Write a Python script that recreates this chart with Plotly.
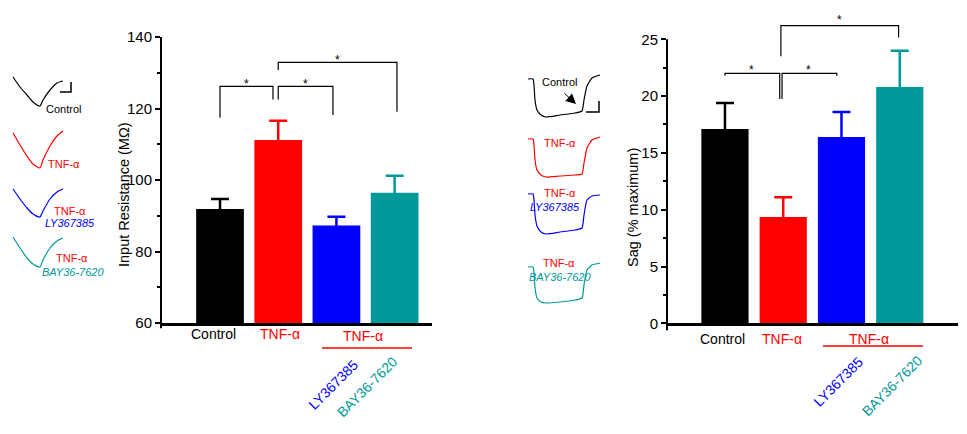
import plotly.graph_objects as go

W, H = 967, 434
FONT = "Liberation Sans"

# ---------------- data ----------------
categories = ["Control", "TNF-α", "TNF-α + LY367385", "TNF-α + BAY36-7620"]
bar_colors = ["#000000", "#FF0000", "#0000FF", "#009999"]
xpos = [0, 1, 2, 3]

input_res = [91.9, 111.2, 87.3, 96.4]
input_res_err = [2.8, 5.4, 2.4, 4.8]

sag = [17.1, 9.35, 16.4, 20.8]
sag_err = [2.3, 1.75, 2.2, 3.2]

# significance brackets: x_left, x_right, y_top, y_left_end, y_right_end, y_star
ir_br_xl = [0.0, 1.0, 1.0]
ir_br_xr = [0.91, 1.94, 3.04]
ir_br_top = [126.2, 126.2, 132.9]
ir_br_lend = [117.4, 122.5, 130.8]
ir_br_rend = [122.5, 118.2, 119.1]
ir_star_x = [0.45, 1.47, 2.02]
ir_star_y = [127.6, 127.6, 134.3]

sag_br_xl = [0.0, 0.98, 0.96]
sag_br_xr = [0.94, 1.92, 2.98]
sag_br_top = [22.0, 22.0, 26.2]
sag_br_lend = [21.8, 19.75, 23.5]
sag_br_rend = [19.75, 21.8, 25.15]
sag_star_x = [0.46, 1.44, 1.96]
sag_star_y = [22.6, 22.6, 27.0]

# example voltage traces (insets), drawn in figure-pixel space
left_trace_x = [13, 20, 27, 33, 40, 43, 50, 57, 63]
left_trace_y = {
    "Control": [77, 87, 95, 102, 106, 100, 90, 83, 81],
    "TNF-α": [133, 145, 156, 164, 168, 160, 146, 136, 131],
    "LY": [189, 199, 208, 214, 217, 211, 199, 192, 189],
    "BAY": [237, 248, 258, 264, 267, 260, 248, 241, 238],
}
right_trace_x = [528, 533, 534, 535, 537, 541, 546, 560, 575, 582, 584, 587, 592, 600]
right_trace_y = {
    "Control": [79, 79, 85, 100, 110, 115, 117, 115, 113, 111, 100, 86, 78, 75],
    "TNF-α": [139, 139, 145, 160, 170, 175, 177, 176, 175, 174, 163, 148, 140, 137],
    "LY": [194, 194, 200, 215, 226, 232, 234, 232, 230, 228, 215, 200, 196, 195],
    "BAY": [267, 267, 273, 288, 298, 302, 303, 302, 300, 298, 285, 270, 265, 263],
}
trace_keys = ["Control", "TNF-α", "LY", "BAY"]
left_scale_x = [60, 71, 71]
left_scale_y = [92, 92, 82]
right_scale_x = [586, 599, 599]
right_scale_y = [112, 112, 101]


def px(x):
    return x / W


def py(y):
    return 1 - y / H


fig = go.Figure()

# ---------------- bars (symmetric SEM; lower half hidden inside bar) ----------------
for i in range(4):
    fig.add_trace(go.Bar(
        x=[xpos[i]], y=[input_res[i]], width=0.82, marker=dict(color=bar_colors[i], line=dict(width=0)),
        error_y=dict(type="data", array=[input_res_err[i]], symmetric=True,
                     color=bar_colors[i], thickness=2.5, width=9),
        xaxis="x", yaxis="y", showlegend=False, name=categories[i]))
    fig.add_trace(go.Bar(
        x=[xpos[i]], y=[sag[i]], width=0.81, marker=dict(color=bar_colors[i], line=dict(width=0)),
        error_y=dict(type="data", array=[sag_err[i]], symmetric=True,
                     color=bar_colors[i], thickness=2.5, width=9),
        xaxis="x2", yaxis="y2", showlegend=False, name=categories[i]))

# ---------------- brackets ----------------
def add_brackets(xl, xr, top, lend, rend, xa, ya):
    for a, b, t, l, r in zip(xl, xr, top, lend, rend):
        fig.add_trace(go.Scatter(x=[a, a, b, b], y=[l, t, t, r], mode="lines",
                                 line=dict(color="black", width=1.2), xaxis=xa, yaxis=ya,
                                 showlegend=False, hoverinfo="skip"))


add_brackets(ir_br_xl, ir_br_xr, ir_br_top, ir_br_lend, ir_br_rend, "x", "y")
add_brackets(sag_br_xl, sag_br_xr, sag_br_top, sag_br_lend, sag_br_rend, "x2", "y2")

annotations = []
for sx, sy in zip(ir_star_x, ir_star_y):
    annotations.append(dict(x=sx, y=sy, xref="x", yref="y", text="*", showarrow=False,
                            font=dict(family=FONT, size=12, color="black"), yshift=-3))
for sx, sy in zip(sag_star_x, sag_star_y):
    annotations.append(dict(x=sx, y=sy, xref="x2", yref="y2", text="*", showarrow=False,
                            font=dict(family=FONT, size=12, color="black"), yshift=-3))

# ---------------- inset traces ----------------
for k, col in zip(trace_keys, bar_colors):
    fig.add_trace(go.Scatter(x=left_trace_x, y=left_trace_y[k], mode="lines",
                             line=dict(color=col, width=1.2, shape="spline", smoothing=0.6),
                             xaxis="x3", yaxis="y3", showlegend=False, hoverinfo="skip"))
    fig.add_trace(go.Scatter(x=right_trace_x, y=right_trace_y[k], mode="lines",
                             line=dict(color=col, width=1.2, shape="spline", smoothing=0.5),
                             xaxis="x3", yaxis="y3", showlegend=False, hoverinfo="skip"))
for sx, sy in [(left_scale_x, left_scale_y), (right_scale_x, right_scale_y)]:
    fig.add_trace(go.Scatter(x=sx, y=sy, mode="lines", line=dict(color="black", width=1.5),
                             xaxis="x3", yaxis="y3", showlegend=False, hoverinfo="skip"))


def lab(x, y, text, color, size=11, italic=False, angle=0):
    annotations.append(dict(x=x, y=y, xref="x3", yref="y3", text=text, showarrow=False,
                            textangle=angle, xanchor="center", yanchor="middle",
                            font=dict(family=FONT, size=size, color=color,
                                      style="italic" if italic else "normal")))


# left inset labels
lab(63, 109, "Control", "black")
lab(63.5, 164, "TNF-α", "#FF0000")
lab(70, 211, "TNF-α", "#FF0000")
lab(70, 223, "LY367385", "#0000FF", italic=True)
lab(72, 258, "TNF-α", "#FF0000")
lab(73, 272, "BAY36-7620", "#009999", italic=True)
# right inset labels
lab(559, 82, "Control", "black")
lab(560, 143, "TNF-α", "#FF0000")
lab(560, 193, "TNF-α", "#FF0000")
lab(555, 207, "LY367385", "#0000FF", italic=True)
lab(559, 263, "TNF-α", "#FF0000")
lab(560, 277, "BAY36-7620", "#009999", italic=True)
annotations.append(dict(x=576, y=104, xref="x3", yref="y3", ax=563, ay=92, axref="x3", ayref="y3",
                        text="", showarrow=True, arrowhead=2, arrowsize=2, arrowwidth=1,
                        arrowcolor="black"))

# x category labels
lab(213, 334, "Control", "black", size=14)
lab(280, 334, "TNF-α", "#FF0000", size=14)
lab(363, 336, "TNF-α", "#FF0000", size=14)
lab(333, 385, "LY367385", "#0000FF", size=14, angle=-45)
lab(367, 387, "BAY36-7620", "#009999", size=14, angle=-45)
lab(722.5, 339, "Control", "black", size=14)
lab(782, 339, "TNF-α", "#FF0000", size=14)
lab(869, 339, "TNF-α", "#FF0000", size=14)
lab(838, 382, "LY367385", "#0000FF", size=14, angle=-45)
lab(892, 386, "BAY36-7620", "#009999", size=14, angle=-45)

# y titles
lab(124, 195, "Input Resistance (MΩ)", "black", size=14.5, angle=-90)
lab(632.5, 207.5, "Sag (% maximum)", "black", size=14.5, angle=-90)

# ---------------- shapes ----------------
shapes = [
    dict(type="line", xref="x3", yref="y3", x0=322, x1=412, y0=348, y1=348, line=dict(color="#FF0000", width=1.5)),
    dict(type="line", xref="x3", yref="y3", x0=823, x1=923, y0=346, y1=346, line=dict(color="#FF0000", width=1.5)),
    dict(type="line", xref="x domain", yref="y domain", x0=0, x1=0, y0=-0.018, y1=1,
         line=dict(color="black", width=2)),
    dict(type="line", xref="x2 domain", yref="y2 domain", x0=0, x1=0, y0=-0.022, y1=25 / 28,
         line=dict(color="black", width=2)),
]

tickfont = dict(family=FONT, size=15, color="black")
fig.update_layout(
    width=W, height=H, margin=dict(l=0, r=0, t=0, b=0, pad=0), autosize=False,
    paper_bgcolor="white", plot_bgcolor="rgba(0,0,0,0)",
    barmode="overlay", showlegend=False,
    font=dict(family=FONT, color="black"),
    xaxis=dict(domain=[px(161), px(432)], range=[-1.014, 3.642], anchor="y", automargin=False,
               showline=True, linewidth=3, linecolor="black", showticklabels=False,
               ticks="", showgrid=False, zeroline=False),
    yaxis=dict(domain=[py(323), py(37)], range=[60, 140], anchor="x", automargin=False,
               showline=False, ticks="outside", ticklen=5, tickwidth=2, tickcolor="black",
               tickvals=[60, 80, 100, 120, 140], tickfont=tickfont,
               minor=dict(tickvals=[70, 90, 110, 130], ticks="outside", ticklen=3, tickwidth=2,
                          tickcolor="black"),
               showgrid=False, zeroline=False),
    xaxis2=dict(domain=[px(667), px(958)], range=[-0.995, 4.0], anchor="y2", automargin=False,
                showline=True, linewidth=3, linecolor="black", showticklabels=False,
                ticks="", showgrid=False, zeroline=False),
    yaxis2=dict(domain=[py(323.3), py(5.2)], range=[0, 28], anchor="x2", automargin=False,
                showline=False, ticks="outside", ticklen=5, tickwidth=2, tickcolor="black",
                tickvals=[0, 5, 10, 15, 20, 25], tickfont=tickfont,
                minor=dict(tickvals=[2.5, 7.5, 12.5, 17.5, 22.5], ticks="outside", ticklen=3,
                           tickwidth=2, tickcolor="black"),
                showgrid=False, zeroline=False),
    xaxis3=dict(domain=[0, 1], range=[0, W], anchor="y3", visible=False, automargin=False),
    yaxis3=dict(domain=[0, 1], range=[H, 0], anchor="x3", visible=False, automargin=False),
    annotations=annotations,
    shapes=shapes,
)

fig.write_html("out.html", config={"displayModeBar": False},
               post_script="document.body.style.margin='0px';")
